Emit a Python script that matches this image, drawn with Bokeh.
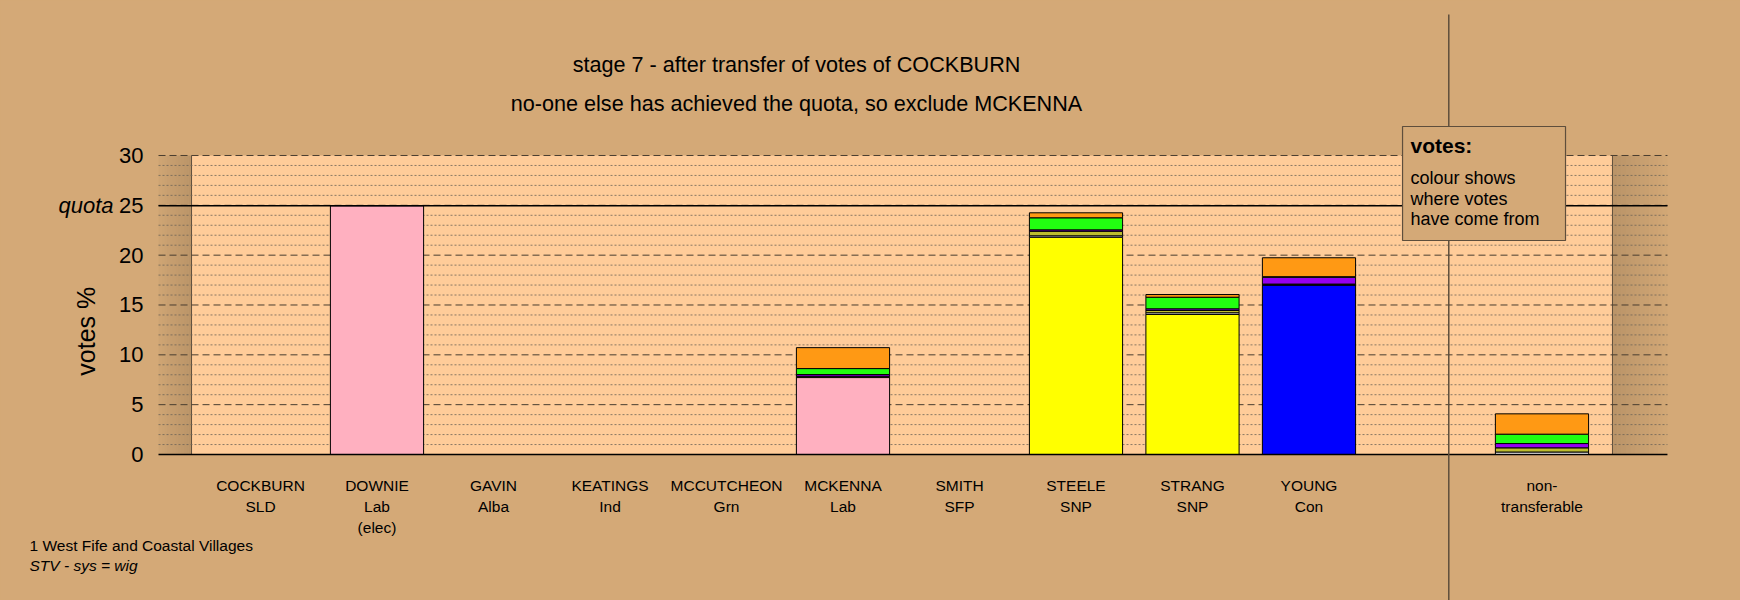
import math
from bokeh.plotting import figure
from bokeh.models import Range1d, FixedTicker
from bokeh.core.properties import value
from bokeh.embed import file_html
from bokeh.resources import INLINE

FONT = "Liberation Sans"
BG = "#D4A977"
INNER = "#FFCC99"

# ---- data ----
candidates = ["COCKBURN", "DOWNIE", "GAVIN", "KEATINGS", "MCCUTCHEON", "MCKENNA",
              "SMITH", "STEELE", "STRANG", "YOUNG", "non-"]
parties = ["SLD", "Lab", "Alba", "Ind", "Grn", "Lab", "SFP", "SNP", "SNP", "Con", "transferable"]
notes = ["", "(elec)", "", "", "", "", "", "", "", "", ""]
slots = [0, 1, 2, 3, 4, 5, 6, 7, 8, 9, 11]

party_colours = {"SLD": "#FF9914", "Lab": "#FFB0C0", "Alba": "#9400F0", "Ind": "#BDBD2E",
                 "Grn": "#22FF11", "SFP": "#FFFFFF", "SNP": "#FFFF00", "Con": "#0000FF"}

own_votes = [0, 24.95, 0, 0, 0, 7.72, 0, 21.80, 14.05, 17.00, 0]
from_SMITH = [0, 0, 0, 0, 0, 0.03, 0, 0.14, 0.17, 0.03, 0.25]
from_KEATINGS = [0, 0, 0, 0, 0, 0.10, 0, 0.46, 0.23, 0.07, 0.42]
from_GAVIN = [0, 0, 0, 0, 0, 0.17, 0, 0.14, 0.17, 0.69, 0.43]
from_MCCUTCHEON = [0, 0, 0, 0, 0, 0.60, 0, 1.21, 1.16, 0.05, 0.94]
from_COCKBURN = [0, 0, 0, 0, 0, 2.10, 0, 0.50, 0.27, 1.90, 2.04]

quota = 24.95
y_ticks = [0, 5, 10, 15, 20, 25, 30]
title_lines = ["stage 7 - after transfer of votes of COCKBURN",
               "no-one else has achieved the quota, so exclude MCKENNA"]
legend_title = "votes:"
legend_lines = ["colour shows", "where votes", "have come from"]
footer_lines = ["1 West Fife and Coastal Villages", "STV - sys = wig"]
y_label = "votes %"

transfers = [(from_SMITH, party_colours["SFP"]), (from_KEATINGS, party_colours["Ind"]),
             (from_GAVIN, party_colours["Alba"]), (from_MCCUTCHEON, party_colours["Grn"]),
             (from_COCKBURN, party_colours["SLD"])]

# ---- figure (frame covers the whole canvas) ----
X0, X1 = -2.2318, 12.704
Y0, Y1 = -14.648, 45.55
GL, GR = -0.8755, 12.077          # extent of the gridded area
p = figure(width=1740, height=600, x_range=Range1d(X0, X1), y_range=Range1d(Y0, Y1),
           x_axis_type=None, toolbar_location=None, output_backend="svg",
           background_fill_color=BG, border_fill_color=BG, outline_line_color=None,
           min_border=0, min_border_left=0, min_border_right=0,
           min_border_top=0, min_border_bottom=0)
p.xgrid.visible = False
p.ygrid.visible = False

# plotting area
IN_L, IN_R = -0.592, 11.605
p.quad(left=[IN_L], right=[IN_R], bottom=[0], top=[30], fill_color=INNER, line_color=None)
N = 12
lw = (IN_L - GL) / N
p.quad(left=[GL + i * lw for i in range(N)], right=[GL + (i + 1) * lw for i in range(N)],
       bottom=[0] * N, top=[30] * N, fill_color="black",
       fill_alpha=[0.02 + 0.10 * (i + 1) / N for i in range(N)], line_color=None)
rw = (GR - IN_R) / N
p.quad(left=[IN_R + i * rw for i in range(N)], right=[IN_R + (i + 1) * rw for i in range(N)],
       bottom=[0] * N, top=[30] * N, fill_color="black",
       fill_alpha=[0.12 * (1 - i / N) for i in range(N)], line_color=None)
p.segment(x0=[IN_L, IN_R], x1=[IN_L, IN_R], y0=[0, 0], y1=[30, 30],
          line_color="#5E4E3C", line_width=1)

minor = [v for v in range(1, 30) if v % 5 != 0]
p.segment(x0=[GL] * len(minor), x1=[GR] * len(minor), y0=minor, y1=minor,
          line_color="#6E6458", line_width=1, line_dash="2 2", line_alpha=0.8)
major = [t for t in y_ticks if t > 0]
p.segment(x0=[GL] * len(major), x1=[GR] * len(major), y0=major, y1=major,
          line_color="#4A3E30", line_width=1, line_dash="7 4")

# bars
L, R, B, T, C = [], [], [], [], []
for k, name in enumerate(candidates):
    base = 0.0
    segs = [(own_votes[k], party_colours.get(parties[k], "#FFFFFF"))] + [(a[k], c) for a, c in transfers]
    for v, c in segs:
        if v > 0:
            L.append(slots[k] - 0.4); R.append(slots[k] + 0.4)
            B.append(base); T.append(base + v); C.append(c)
            base += v
p.quad(left=L, right=R, bottom=B, top=T, fill_color=C, line_color="black", line_width=1)

p.segment(x0=[GL, GL], x1=[GR, GR], y0=[0, quota], y1=[0, quota], line_color="black", line_width=1.6)

# separator
p.segment(x0=[10.2], x1=[10.2], y0=[44.15], y1=[Y0], line_color="#5E4E3C", line_width=1.5)

# legend box
p.quad(left=[9.803], right=[11.202], bottom=[21.47], top=[32.91], fill_color=BG,
       line_color="#5E4E3C", line_width=1.2)
p.text(x=[9.871], y=[31.0], text=[legend_title], text_font=value(FONT), text_font_size="21px",
       text_font_style="bold", text_align="left", text_baseline="middle", text_color="black")
p.text(x=[9.871] * 3, y=[27.72, 25.65, 23.58], text=legend_lines, text_font=value(FONT),
       text_font_size="18px", text_align="left", text_baseline="middle", text_color="black")

# titles
p.text(x=[4.601, 4.601], y=[39.13, 35.22], text=title_lines, text_font=value(FONT),
       text_font_size="21.6px", text_align="center", text_baseline="middle", text_color="black")

# category labels
for lines, yy in ((candidates, -3.11), (parties, -5.22), (notes, -7.29)):
    p.text(x=slots, y=[yy] * len(slots), text=lines, text_font=value(FONT),
           text_font_size="15.5px", text_align="center", text_baseline="middle", text_color="black")

# y axis drawn at the left edge of the gridded area
ax = p.yaxis[0]
ax.fixed_location = GL
ax.ticker = FixedTicker(ticks=y_ticks)
ax.axis_line_color = None
ax.major_tick_line_color = None
ax.minor_tick_line_color = None
ax.major_tick_out = 0
ax.major_tick_in = 0
ax.major_label_standoff = 15
ax.major_label_text_font = FONT
ax.major_label_text_font_size = "22px"
ax.major_label_text_color = "black"

p.text(x=[-1.262], y=[quota], text=["quota"], text_font=value(FONT), text_font_size="22px",
       text_font_style="italic", text_align="right", text_baseline="middle", text_color="black")
p.text(x=[-1.494], y=[12.37], text=[y_label], text_font=value(FONT), text_font_size="25px",
       angle=math.pi / 2, text_align="center", text_baseline="middle", text_color="black")
p.text(x=[-1.983], y=[-9.13], text=[footer_lines[0]], text_font=value(FONT), text_font_size="15.5px",
       text_align="left", text_baseline="middle", text_color="black")
p.text(x=[-1.983], y=[-11.14], text=[footer_lines[1]], text_font=value(FONT), text_font_size="15.5px",
       text_font_style="italic", text_align="left", text_baseline="middle", text_color="black")

html = file_html(p, INLINE)
html = html.replace("</head>", "<style>html,body{background:%s;}</style></head>" % BG, 1)
open("out.html", "w").write(html)
